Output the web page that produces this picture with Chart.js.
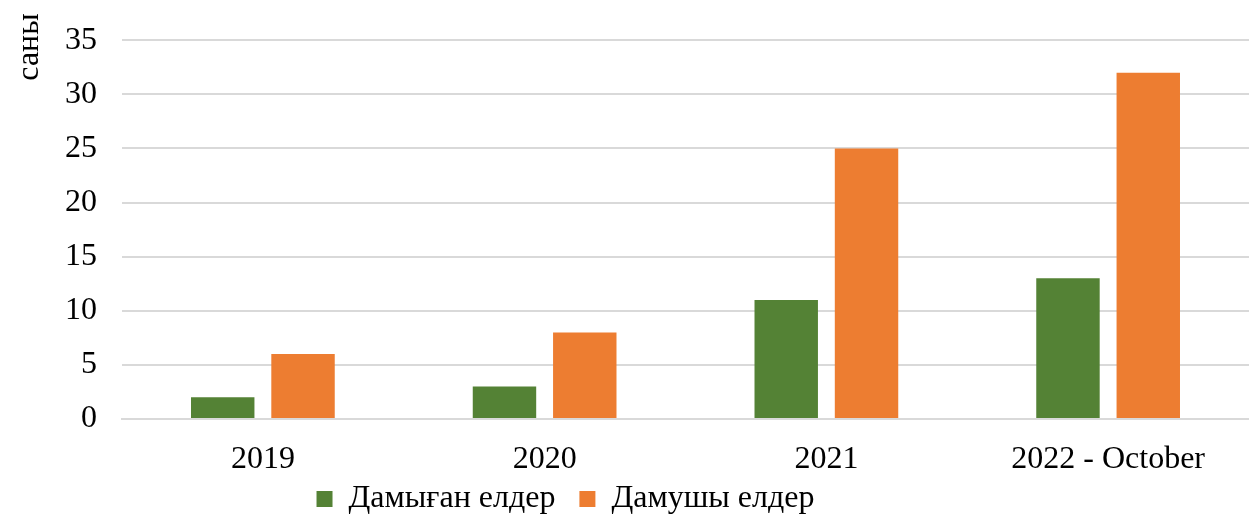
<!DOCTYPE html>
<html>
<head>
<meta charset="utf-8">
<script src="https://cdn.jsdelivr.net/npm/chart.js@4.4.0/dist/chart.umd.min.js"></script>
<style>
  html, body { margin: 0; padding: 0; background: #fff; overflow: hidden; }
  canvas { display: block; }
</style>
</head>
<body>
<canvas id="myChart" width="1249" height="515" style="width:1249px;height:515px"></canvas>
<script>
var jyldar = ['2019', '2020', '2021', '2022 - October']; // категориялар
var damygan = [2, 3, 11, 13];   // Дамыған елдер
var damushy = [6, 8, 25, 32];   // Дамушы елдер
var yTicks = [0, 5, 10, 15, 20, 25, 30, 35];

var serif = '"Liberation Serif", "Times New Roman", serif';

// "саны" жазуы - ось тақырыбы жоғарғы жақта
var sanyPlugin = {
    id: 'sany',
    afterLayout: function(chart) {
        // легенданы сәл солға және жоғары жылжыту
        chart.legend.left -= 59;
        chart.legend.right -= 59;
        chart.legend.top -= 20;
        chart.legend.bottom -= 20;
    },
    afterDraw: function(chart) {
        var ctx = chart.ctx;
        ctx.save();
        ctx.translate(30, 47);
        ctx.rotate(-Math.PI / 2);
        ctx.font = '32px ' + serif;
        ctx.fillStyle = '#000';
        ctx.textAlign = 'center';
        ctx.textBaseline = 'middle';
        ctx.fillText('саны', 0, 0);
        ctx.restore();
    }
};

var ctx = document.getElementById('myChart').getContext('2d');
var myChart = new Chart(ctx, {
    type: 'bar',
    data: {
        labels: jyldar,
        datasets: [
            {
                label: 'Дамыған елдер',
                data: damygan,
                backgroundColor: '#548235',
                categoryPercentage: 0.57,
                barPercentage: 0.79
            },
            {
                label: 'Дамушы елдер',
                data: damushy,
                backgroundColor: '#ED7D31',
                categoryPercentage: 0.57,
                barPercentage: 0.79
            }
        ]
    },
    options: {
        responsive: false,
        animation: false,
        devicePixelRatio: 1,
        layout: { padding: { top: 0, right: 0, left: 0, bottom: -30 } },
        plugins: {
            legend: {
                position: 'bottom',
                labels: {
                    color: '#000',
                    font: { family: serif, size: 32 },
                    boxWidth: 16,
                    boxHeight: 16,
                    padding: 24
                }
            },
            tooltip: { enabled: false }
        },
        scales: {
            y: {
                min: 0,
                max: 35,
                afterFit: function(axis) { axis.width = 122; },
                afterBuildTicks: function(axis) {
                    axis.ticks = yTicks.map(function(v) { return { value: v }; });
                },
                ticks: {
                    color: '#000',
                    font: { family: serif, size: 32, lineHeight: 0.95 },
                    padding: 25
                },
                grid: { color: '#d9d9d9', lineWidth: 2, drawTicks: false },
                border: { display: false }
            },
            x: {
                afterFit: function(axis) { axis.height = 60; },
                ticks: {
                    color: '#000',
                    font: { family: serif, size: 32 },
                    padding: 13
                },
                grid: { display: false },
                border: { color: '#d9d9d9', width: 2 }
            }
        }
    },
    plugins: [sanyPlugin]
});
</script>
</body>
</html>
